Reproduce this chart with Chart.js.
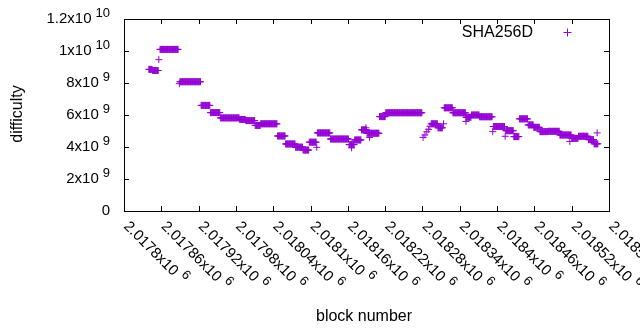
<!DOCTYPE html>
<html>
<head>
<meta charset="utf-8">
<script src="https://cdn.jsdelivr.net/npm/chart.js@4/dist/chart.umd.min.js"></script>
<style>
  html, body { margin: 0; padding: 0; background: #fff; }
  #wrap { width: 640px; height: 330px; }
</style>
</head>
<body>
<div id="wrap"><canvas id="chart" width="640" height="330"></canvas></div>
<script>
// difficulty is constant over runs of blocks: first block, last block, difficulty
const runFirstBlock = [
  2017840, 2017846, 2017856, 2017858, 2017889, 2017890, 2017924, 2017939, 2017955, 2017986,
  2017996, 2018011, 2018020, 2018047, 2018060, 2018076, 2018088, 2018098, 2018110, 2018111,
  2018132, 2018162, 2018166, 2018171, 2018182, 2018189, 2018191, 2018195, 2018211, 2018221,
  2018281, 2018284, 2018287, 2018290, 2018292, 2018294, 2018305, 2018314, 2018315, 2018329,
  2018350, 2018350, 2018359, 2018372, 2018393, 2018394, 2018413, 2018414, 2018427, 2018436,
  2018450, 2018459, 2018469, 2018482, 2018501, 2018517, 2018520, 2018531, 2018547, 2018556,
  2018561
];
const runLastBlock = [
  2017845, 2017855, 2017856, 2017887, 2017889, 2017923, 2017938, 2017954, 2017985, 2017995,
  2018010, 2018019, 2018046, 2018059, 2018075, 2018087, 2018097, 2018109, 2018110, 2018131,
  2018161, 2018170, 2018166, 2018181, 2018190, 2018189, 2018210, 2018195, 2018220, 2018279,
  2018281, 2018284, 2018287, 2018290, 2018292, 2018304, 2018312, 2018314, 2018328, 2018349,
  2018350, 2018358, 2018371, 2018392, 2018393, 2018412, 2018413, 2018426, 2018435, 2018449,
  2018458, 2018468, 2018481, 2018500, 2018519, 2018517, 2018530, 2018546, 2018555, 2018562,
  2018561
];
const runDifficulty = [
  8.85e9, 8.78e9, 9.46e9, 10.1e9, 7.96e9, 8.08e9, 6.6e9, 6.15e9, 5.82e9, 5.72e9,
  5.65e9, 5.35e9, 5.45e9, 4.69e9, 4.19e9, 3.99e9, 3.81e9, 4.3e9, 3.98e9, 4.88e9,
  4.5e9, 4.15e9, 3.95e9, 4.44e9, 5.07e9, 5.2e9, 4.86e9, 4.6e9, 5.9e9, 6.14e9,
  4.6e9, 4.75e9, 4.95e9, 5.1e9, 5.3e9, 5.45e9, 5.2e9, 5.45e9, 6.45e9, 6.14e9,
  5.6e9, 5.86e9, 6.0e9, 5.89e9, 4.96e9, 5.28e9, 4.67e9, 5.02e9, 4.65e9, 5.76e9,
  5.38e9, 5.23e9, 4.96e9, 4.98e9, 4.75e9, 4.35e9, 4.54e9, 4.67e9, 4.46e9, 4.2e9,
  4.88e9
];

const xTickValues = [
  2017800, 2017860, 2017920, 2017980, 2018040, 2018100, 2018160,
  2018220, 2018280, 2018340, 2018400, 2018460, 2018520, 2018580
];
const yTickValues = [0, 2e9, 4e9, 6e9, 8e9, 1e10, 1.2e10];

const seriesName = 'SHA256D';
const xTitle = 'block number';
const yTitle = 'difficulty';

const PURPLE = '#9400d3';
const FAMILY = '"Liberation Sans", Arial, sans-serif';
const FONT = '15px ' + FAMILY;
const SUP_FONT = '13px ' + FAMILY;
const TITLE_FONT = '16px ' + FAMILY;

// every block of a run gets the run's difficulty
const points = [];
runFirstBlock.forEach((first, i) => {
  for (let b = first; b <= runLastBlock[i]; b++) points.push({ x: b, y: runDifficulty[i] });
});

// "2.0178x10^6" style labels, as gnuplot prints them
function sciParts(v) {
  if (v === 0) return ['0', ''];
  const exp = Math.floor(Math.log10(v) + 1e-9);
  const mant = +(v / Math.pow(10, exp)).toPrecision(8);
  return [mant + 'x10', String(exp)];
}

// frame, inward ticks, labels and key drawn gnuplot-style
const gnuplotFrame = {
  id: 'gnuplotFrame',
  afterDatasetsDraw(chart) {
    const { ctx, chartArea: a, scales: { x, y } } = chart;
    ctx.save();
    ctx.strokeStyle = '#000';
    ctx.lineWidth = 1;
    ctx.strokeRect(a.left + 0.5, a.top + 0.5, a.right - a.left, a.bottom - a.top);

    ctx.beginPath();
    xTickValues.forEach(v => {
      const px = Math.round(x.getPixelForValue(v)) + 0.5;
      ctx.moveTo(px, a.bottom); ctx.lineTo(px, a.bottom - 5);
      ctx.moveTo(px, a.top); ctx.lineTo(px, a.top + 5);
    });
    yTickValues.forEach(v => {
      const py = Math.round(y.getPixelForValue(v)) + 0.5;
      ctx.moveTo(a.left, py); ctx.lineTo(a.left + 5, py);
      ctx.moveTo(a.right, py); ctx.lineTo(a.right - 5, py);
    });
    ctx.stroke();

    ctx.fillStyle = '#000';
    ctx.textBaseline = 'middle';

    // y tick labels
    yTickValues.forEach(v => {
      const py = y.getPixelForValue(v);
      const [main, sup] = sciParts(v);
      ctx.font = SUP_FONT;
      const supW = sup ? ctx.measureText(sup).width + 4 : 0;
      const mainEnd = 110 - supW;
      ctx.font = FONT;
      ctx.textAlign = 'right';
      ctx.fillText(main, mainEnd, py);
      if (sup) {
        ctx.font = SUP_FONT;
        ctx.textAlign = 'left';
        ctx.fillText(sup, mainEnd + 4, py - 6);
      }
    });

    // x tick labels, rotated by -45 degrees
    xTickValues.forEach(v => {
      const px = x.getPixelForValue(v);
      const [main, sup] = sciParts(v);
      ctx.save();
      ctx.translate(px + 2, a.bottom + 13);
      ctx.rotate(Math.PI / 4);
      ctx.textAlign = 'left';
      ctx.font = FONT;
      ctx.fillText(main, 0, 0);
      const w = ctx.measureText(main).width;
      ctx.font = SUP_FONT;
      ctx.fillText(sup, w + 5, -6);
      ctx.restore();
    });

    // axis titles
    ctx.font = TITLE_FONT;
    ctx.textAlign = 'center';
    ctx.textBaseline = 'alphabetic';
    ctx.fillText(xTitle, 364, 321);
    ctx.save();
    ctx.translate(22, 114);
    ctx.rotate(-Math.PI / 2);
    ctx.fillText(yTitle, 0, 0);
    ctx.restore();

    // key
    ctx.textAlign = 'right';
    ctx.fillText(seriesName, 533, 37);
    ctx.strokeStyle = PURPLE;
    ctx.beginPath();
    ctx.moveTo(563.5, 32.5); ctx.lineTo(571.5, 32.5);
    ctx.moveTo(567.5, 28.5); ctx.lineTo(567.5, 36.5);
    ctx.stroke();
    ctx.restore();
  }
};

new Chart(document.getElementById('chart'), {
  type: 'scatter',
  data: {
    datasets: [{
      label: seriesName,
      data: points,
      pointStyle: 'cross',
      pointRadius: 3.5,
      pointBorderWidth: 1,
      borderColor: PURPLE,
      backgroundColor: PURPLE
    }]
  },
  options: {
    responsive: false,
    animation: false,
    events: [],
    devicePixelRatio: 1,
    layout: { padding: { left: 124, right: 31, top: 19, bottom: 119 } },
    scales: {
      x: { type: 'linear', display: false, min: 2017800, max: 2018580 },
      y: { type: 'linear', display: false, min: 0, max: 1.2e10 }
    },
    plugins: { legend: { display: false }, tooltip: { enabled: false } }
  },
  plugins: [gnuplotFrame]
});
</script>
</body>
</html>
